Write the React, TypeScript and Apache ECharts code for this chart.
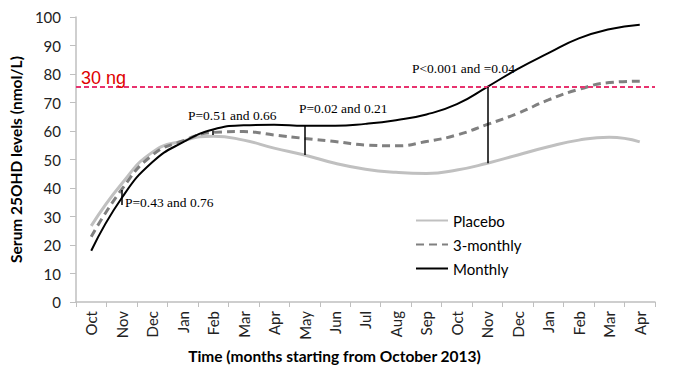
import React, { useEffect, useRef } from "react";
import * as echarts from "echarts";

const months = ["Oct", "Nov", "Dec", "Jan", "Feb", "Mar", "Apr", "May", "Jun", "Jul", "Aug", "Sep", "Oct", "Nov", "Dec", "Jan", "Feb", "Mar", "Apr"];
const placebo = [26.7, 41.5, 52.5, 56.5, 58.2, 56.8, 54.0, 51.6, 48.7, 46.6, 45.5, 45.1, 46.3, 48.7, 51.6, 54.5, 56.8, 57.8, 56.2];
const threeMonthly = [22.9, 39.5, 51.5, 56.5, 59.5, 59.8, 58.6, 57.4, 56.3, 55.1, 54.8, 56.3, 58.6, 62.3, 66.2, 70.9, 74.6, 77.0, 77.5];
const monthly = [18.0, 36.5, 49.0, 56.0, 60.5, 62.0, 62.2, 61.8, 61.8, 62.5, 63.8, 65.8, 69.4, 75.5, 81.8, 87.3, 92.5, 95.7, 97.3];
const threshold = 75.5;
const thresholdLabel = "30 ng";
// [category index, low value, high value]
const markers: [number, number, number][] = [
  [0.85, 34, 39.3],
  [4, 58.6, 60.2],
  [7, 51.6, 61.8],
  [13, 48.7, 75.5],
];
const pTexts = ["P=0.43 and 0.76", "P=0.51 and 0.66", "P=0.02 and 0.21", "P<0.001 and =0.04"];
const pPos: [number, number][] = [[125, 203], [188, 116], [299, 109], [412, 69]];

export default function App() {
  const ref = useRef<HTMLDivElement>(null);
  useEffect(() => {
    if (!ref.current) return;
    const chart = echarts.init(ref.current, undefined, { renderer: "svg" });
    const sans = "Lato";
    const option: any = {
      animation: false,
      backgroundColor: "#ffffff",
      grid: { left: 71, right: 38, top: 17, bottom: 75, containLabel: false },
      legend: {
        orient: "vertical",
        left: 410,
        top: 208,
        itemWidth: 32,
        itemHeight: 14,
        itemGap: 9,
        itemStyle: { opacity: 0 },
        textStyle: { fontFamily: sans, fontSize: 15, color: "#000" },
        data: ["Placebo", "3-monthly", "Monthly"],
      },
      xAxis: {
        type: "category",
        data: months,
        boundaryGap: true,
        name: "Time (months starting from October 2013)",
        nameLocation: "middle",
        nameGap: 45,
        nameTextStyle: { fontFamily: sans, fontSize: 15.5, fontWeight: "bold", color: "#000", padding: [0, 62, 0, 0] },
        axisLine: { lineStyle: { color: "#bfbfbf", width: 1.5 } },
        axisTick: { show: true, length: 5, lineStyle: { color: "#bfbfbf" }, alignWithLabel: false },
        axisLabel: { rotate: 90, margin: 9, fontFamily: sans, fontSize: 15, color: "#222", interval: 0 },
        splitLine: { show: false },
      },
      yAxis: {
        type: "value",
        min: 0,
        max: 100,
        interval: 10,
        name: "Serum 25OHD levels (nmol/L)",
        nameLocation: "middle",
        nameGap: 48,
        nameTextStyle: { fontFamily: sans, fontSize: 15.5, fontWeight: "bold", color: "#000" },
        axisLine: { show: true, lineStyle: { color: "#bfbfbf", width: 1.5 } },
        axisTick: { show: true, length: 6, lineStyle: { color: "#bfbfbf" } },
        axisLabel: { margin: 15, fontFamily: sans, fontSize: 15, color: "#222" },
        splitLine: { show: false },
      },
      series: [
        {
          name: "Placebo",
          type: "line",
          data: placebo,
          smooth: true,
          symbol: "none",
          lineStyle: { color: "#c0c0c0", width: 3 },
          itemStyle: { color: "#c0c0c0" },
          z: 2,
          markLine: {
            silent: true,
            symbol: "none",
            lineStyle: { color: "#e8336f", width: 2, type: [5, 3] },
            label: {
              show: true,
              position: "insideStartTop",
              formatter: thresholdLabel,
              color: "#e00000",
              fontFamily: "Liberation Sans",
              fontSize: 18,
              distance: [5, 0],
            },
            data: [{ yAxis: threshold }],
          },
        },
        {
          name: "3-monthly",
          type: "line",
          data: threeMonthly,
          smooth: true,
          symbol: "none",
          lineStyle: { color: "#808080", width: 3, type: [8, 5] },
          itemStyle: { color: "#808080" },
          z: 3,
        },
        {
          name: "Monthly",
          type: "line",
          data: monthly,
          smooth: true,
          symbol: "none",
          lineStyle: { color: "#000000", width: 2 },
          itemStyle: { color: "#000000" },
          z: 4,
          markLine: {
            silent: true,
            symbol: "none",
            label: { show: false },
            lineStyle: { color: "#000", width: 1.5, type: "solid" },
            data: markers.map(([i, lo, hi]) => [{ coord: [i, lo] }, { coord: [i, hi] }]),
          },
        },
      ],
      graphic: pTexts.map((t, k) => ({
        type: "text",
        left: pPos[k][0],
        top: pPos[k][1] - 8,
        style: { text: t, fontFamily: "Liberation Serif", fontSize: 13.5, fill: "#000" },
        z: 10,
      })),
    };
    chart.setOption(option);
    return () => chart.dispose();
  }, []);
  return <div ref={ref} style={{ position: "fixed", left: 0, top: 0, width: 693, height: 377 }} />;
}
